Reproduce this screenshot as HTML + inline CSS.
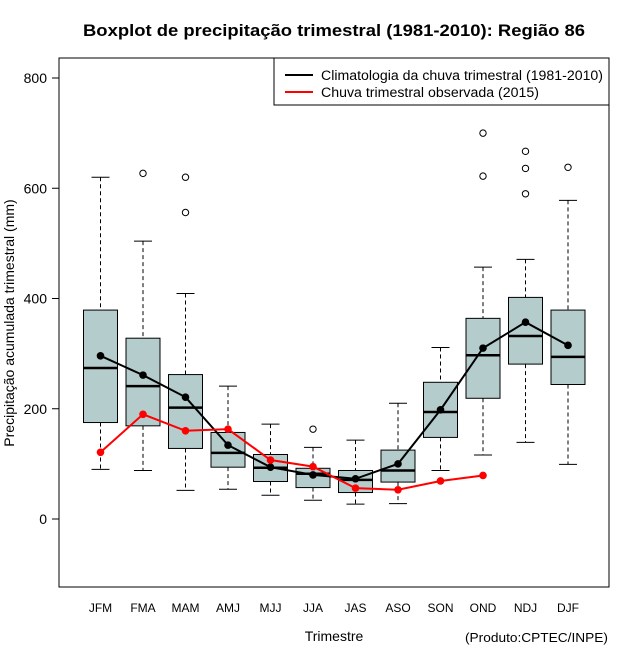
<!DOCTYPE html>
<html><head><meta charset="utf-8"><style>
body{margin:0;background:#fff;}
svg{display:block;font-family:"Liberation Sans",sans-serif;}
</style></head><body>
<svg id="chart" width="640" height="660" xmlns="http://www.w3.org/2000/svg">
<rect width="640" height="660" fill="#fff"/>
<text x="83" y="36" font-size="17" font-weight="bold" textLength="502" lengthAdjust="spacingAndGlyphs">Boxplot de precipitação trimestral (1981-2010): Região 86</text>
<rect x="59" y="58" width="550" height="529" fill="none" stroke="#000"/>
<g id="yaxis"></g>
<g id="xaxis"></g>
<g id="boxes"></g>
<g id="lines"></g>
<text transform="translate(14,323) rotate(-90)" text-anchor="middle" font-size="14">Precipitação acumulada trimestral (mm)</text>
<text x="334" y="641" text-anchor="middle" font-size="14">Trimestre</text>
<text x="608" y="642" text-anchor="end" font-size="13" textLength="143" lengthAdjust="spacingAndGlyphs">(Produto:CPTEC/INPE)</text>
<g>
<rect x="274" y="58" width="335" height="47" fill="#fff" stroke="#000"/>
<line x1="285" y1="75" x2="313" y2="75" stroke="#000" stroke-width="2"/>
<text x="321" y="80" font-size="13.5" textLength="282" lengthAdjust="spacingAndGlyphs">Climatologia da chuva trimestral (1981-2010)</text>
<line x1="285" y1="92" x2="313" y2="92" stroke="#f00" stroke-width="2"/>
<text x="321" y="97" font-size="13.5" textLength="218" lengthAdjust="spacingAndGlyphs">Chuva trimestral observada (2015)</text>
</g>
</svg>
<script>
const categories=["JFM","FMA","MAM","AMJ","MJJ","JJA","JAS","ASO","SON","OND","NDJ","DJF"];
const whiskerLow=[90,88,52,54,43,34,27,28,88,116,139,99];
const q1=[175,169,128,94,68,57,48,67,148,219,281,244];
const median=[274,241,202,120,93,82,71,88,194,297,332,294];
const q3=[379,328,262,157,117,92,88,125,248,364,402,379];
const whiskerHigh=[620,504,409,241,172,130,143,210,311,457,471,578];
const outliers=[[],[627],[620,556],[],[],[163],[],[],[],[700,622],[667,636,590],[638]];
const climatology=[296,261,221,134,94,80,73,100,198,310,357,315];
const observed=[121,190,160,163,107,95,56,53,69,79];
const yTicks=[0,200,400,600,800];

const NS="http://www.w3.org/2000/svg";
const y=v=>519-v*0.55125;
const x=i=>100.5+i*42.5;
function mk(tag,attrs,parent){const e=document.createElementNS(NS,tag);for(const k in attrs)e.setAttribute(k,attrs[k]);parent.appendChild(e);return e;}
const ya=document.getElementById('yaxis'),xa=document.getElementById('xaxis'),bx=document.getElementById('boxes'),ln=document.getElementById('lines');
mk('line',{x1:59,x2:59,y1:y(0),y2:y(800),stroke:'#000'},ya);
yTicks.forEach(t=>{
  mk('line',{x1:52,x2:59,y1:y(t),y2:y(t),stroke:'#000'},ya);
  const tx=mk('text',{x:47,y:y(t)+5,'text-anchor':'end','font-size':14},ya);
  
  
  tx.textContent=t;
});
categories.forEach((c,i)=>{
  const tx=mk('text',{x:x(i),y:612,'text-anchor':'middle','font-size':12},xa);
  
  
  tx.textContent=c;
  const g=mk('g',{},bx);
  
  
  const cx=x(i);
  mk('line',{x1:cx,x2:cx,y1:y(whiskerHigh[i]),y2:y(q3[i]),stroke:'#000','stroke-dasharray':'4,3'},g);
  mk('line',{x1:cx,x2:cx,y1:y(q1[i]),y2:y(whiskerLow[i]),stroke:'#000','stroke-dasharray':'4,3'},g);
  mk('line',{x1:cx-9,x2:cx+9,y1:y(whiskerHigh[i]),y2:y(whiskerHigh[i]),stroke:'#000'},g);
  mk('line',{x1:cx-9,x2:cx+9,y1:y(whiskerLow[i]),y2:y(whiskerLow[i]),stroke:'#000'},g);
  mk('rect',{x:cx-17,y:y(q3[i]),width:34,height:y(q1[i])-y(q3[i]),fill:'#b4cccc',stroke:'#000'},g);
  mk('line',{x1:cx-17,x2:cx+17,y1:y(median[i]),y2:y(median[i]),stroke:'#000','stroke-width':2.5},g);
  outliers[i].forEach(o=>mk('circle',{cx:cx,cy:y(o),r:3.2,fill:'none',stroke:'#000'},g));
});
function series(vals,color,name){
  const g=mk('g',{},ln);
  
  
  mk('polyline',{points:vals.map((v,i)=>x(i)+','+y(v)).join(' '),fill:'none',stroke:color,'stroke-width':2},g);
  vals.forEach((v,i)=>mk('circle',{cx:x(i),cy:y(v),r:3.8,fill:color},g));
}
series(climatology,'#000','climatology-line');
series(observed,'#f00','observed-line');
</script>
</body></html>
